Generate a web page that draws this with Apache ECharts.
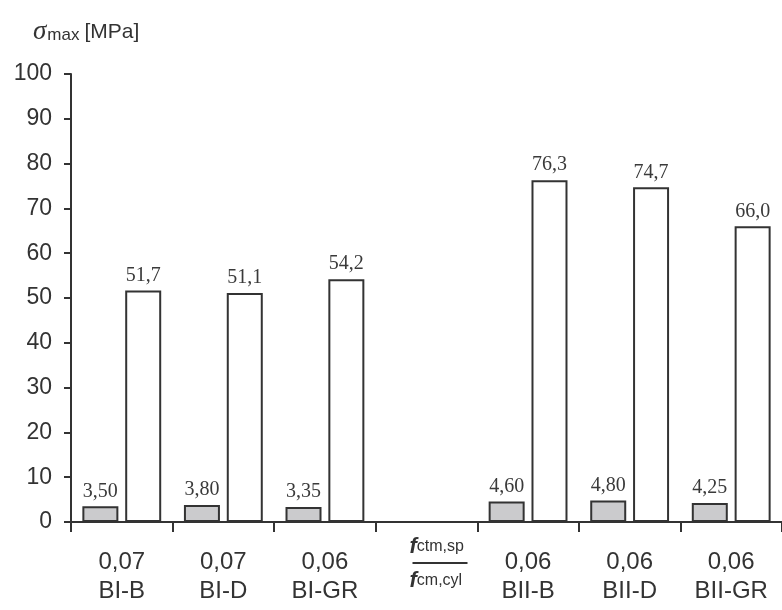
<!DOCTYPE html>
<html><head><meta charset="utf-8">
<script src="https://cdn.jsdelivr.net/npm/echarts@6/dist/echarts.min.js"></script>
<style>html,body{margin:0;padding:0;background:#fff}#c{width:782px;height:610px}</style>
</head><body><div id="c"></div>
<script>
var names = ['BI-B','BI-D','BI-GR','','BII-B','BII-D','BII-GR'];
var ratios = ['0,07','0,07','0,06','','0,06','0,06','0,06'];
var grayValues = [3.50,3.80,3.35,null,4.60,4.80,4.25];
var whiteValues = [51.7,51.1,54.2,null,76.3,74.7,66.0];
var yTicks = [0,10,20,30,40,50,60,70,80,90,100];

var cats = names.map(function(n,i){return n===''?'frac':n;});
var ink = '#333';
function fmt(v,d){return v.toFixed(d).replace('.',',');}

var chart = echarts.init(document.getElementById('c'));
chart.setOption({
  animation:false,
  title:{
    text:'{s|σ}{m|max} {u|[MPa]}',
    left:28, top:12,
    textStyle:{fontWeight:'normal',rich:{
      s:{fontFamily:'Liberation Serif',fontStyle:'italic',fontWeight:'normal',fontSize:27,color:ink,lineHeight:30},
      m:{fontFamily:'Liberation Sans',fontWeight:'normal',fontSize:17,color:ink,padding:[7,0,0,1]},
      u:{fontFamily:'Liberation Sans',fontWeight:'normal',fontSize:21,color:ink,letterSpacing:0.5}
    }}
  },
  grid:{left:71,top:74,bottom:88,right:-7},
  xAxis:{
    type:'category',
    data:cats,
    axisLine:{lineStyle:{color:ink,width:2}},
    axisTick:{show:true,length:10,lineStyle:{color:ink,width:2}},
    axisLabel:{
      margin:10,
      interval:0,
      formatter:function(v,i){
        if(v==='frac'){
          return '{f|f}{sb|ctm,sp}\n{ls| }{ln| }\n{f2|f}{sb2|cm,cyl}';
        }
        return '{sp| }\n{a|'+ratios[i]+'}\n{a|'+names[i]+'}';
      },
      rich:{
        sp:{fontSize:1,lineHeight:16},
        a:{fontFamily:'Liberation Sans',fontSize:24,lineHeight:29,color:ink},
        f:{fontFamily:'Liberation Sans',fontStyle:'italic',fontWeight:'bold',fontSize:22,lineHeight:30,color:ink,padding:[0,0,0,24],align:'left'},
        sb:{fontFamily:'Liberation Sans',fontSize:16,lineHeight:30,color:ink,align:'left'},
        f2:{fontFamily:'Liberation Sans',fontStyle:'italic',fontWeight:'bold',fontSize:22,lineHeight:34,color:ink,padding:[0,0,0,24],align:'left'},
        sb2:{fontFamily:'Liberation Sans',fontSize:16,lineHeight:34,color:ink,align:'left'},
        ls:{fontSize:1,width:27,height:2,lineHeight:2,align:'left'},
        ln:{fontSize:1,width:55,height:2,lineHeight:2,backgroundColor:ink,align:'left'}
      }
    }
  },
  yAxis:{
    type:'value',min:0,max:100,interval:10,
    splitLine:{show:false},
    axisLine:{show:true,lineStyle:{color:ink,width:2}},
    axisTick:{show:true,length:7,lineStyle:{color:ink,width:2}},
    axisLabel:{margin:19,fontFamily:'Liberation Sans',fontSize:23,color:ink,
      formatter:function(v){return yTicks.indexOf(v)>=0?String(v):'';}}
  },
  series:[
    {type:'bar',data:grayValues,barWidth:36,barGap:'19%',
     itemStyle:{color:'#cbcbcd',borderColor:ink,borderWidth:2},
     label:{show:true,position:'top',distance:5,fontFamily:'Liberation Serif',fontSize:20,color:'#3a3a3a',
       formatter:function(p){return fmt(p.value,2);}}},
    {type:'bar',data:whiteValues,barWidth:36,
     itemStyle:{color:'#fff',borderColor:ink,borderWidth:2},
     label:{show:true,position:'top',distance:5,fontFamily:'Liberation Serif',fontSize:20,color:'#3a3a3a',
       formatter:function(p){return fmt(p.value,1);}}}
  ]
});
</script></body></html>
